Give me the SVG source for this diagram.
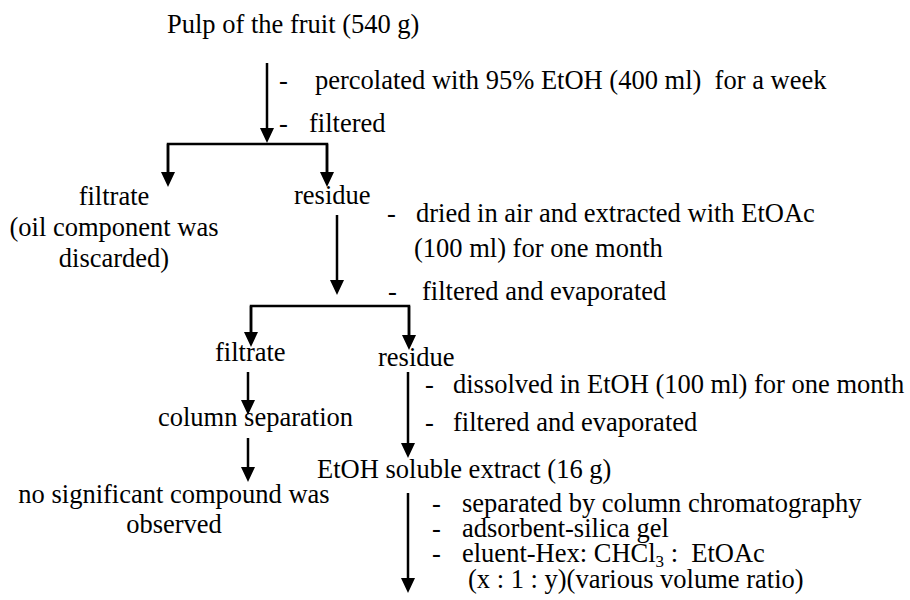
<svg xmlns="http://www.w3.org/2000/svg" width="910" height="600" viewBox="0 0 910 600">
<style>
text{font-family:"Liberation Serif","Times New Roman",serif;font-size:26.5px;fill:#000}
.c{text-anchor:middle}
.pre{white-space:pre}
.ln{stroke:#000;stroke-width:2.5;fill:none}
</style>
<defs>
<marker id="ah" markerUnits="userSpaceOnUse" markerWidth="15" markerHeight="14" refX="5" refY="7" orient="auto">
<path d="M0,0 L15,7 L0,14 Z" fill="#000"/>
</marker>
</defs>
<rect width="910" height="600" fill="#fff"/>
<g id="connectors">
<line class="ln" x1="267" y1="63" x2="267" y2="133" marker-end="url(#ah)"/>
<polyline class="ln" points="168,177 168,144 327,144 327,177"/>
<line class="ln" x1="168" y1="144" x2="168" y2="177" marker-end="url(#ah)"/>
<line class="ln" x1="327" y1="144" x2="327" y2="177" marker-end="url(#ah)"/>
<line class="ln" x1="337" y1="215" x2="337" y2="285" marker-end="url(#ah)"/>
<polyline class="ln" points="251,337 251,306 409,306 409,340"/>
<line class="ln" x1="251" y1="306" x2="251" y2="337" marker-end="url(#ah)"/>
<line class="ln" x1="409" y1="306" x2="409" y2="340" marker-end="url(#ah)"/>
<line class="ln" x1="248" y1="372" x2="248" y2="405" marker-end="url(#ah)"/>
<line class="ln" x1="248" y1="438" x2="248" y2="472" marker-end="url(#ah)"/>
<line class="ln" x1="408" y1="372" x2="408" y2="448" marker-end="url(#ah)"/>
<line class="ln" x1="408" y1="493" x2="408" y2="583" marker-end="url(#ah)"/>
</g>
<g id="pulp"><text x="167" y="33">Pulp of the fruit (540 g)</text></g>
<g id="step1">
<text class="pre" x="279" y="89">-<tspan x="315">percolated with 95% EtOH (400 ml)  for a week</tspan></text>
<text x="279" y="132">-<tspan x="309">filtered</tspan></text>
</g>
<g id="filtrate1">
<text class="c" x="114" y="205">filtrate</text>
<text class="c" x="114" y="236">(oil component was</text>
<text class="c" x="114" y="267">discarded)</text>
</g>
<g id="residue1"><text x="294" y="204">residue</text></g>
<g id="step2">
<text x="387" y="222">-<tspan x="416">dried in air and extracted with EtOAc</tspan></text>
<text x="414" y="257">(100 ml) for one month</text>
<text x="388" y="300">-<tspan x="422">filtered and evaporated</tspan></text>
</g>
<g id="filtrate2"><text x="215" y="361">filtrate</text></g>
<g id="residue2"><text x="378" y="366">residue</text></g>
<g id="column"><text x="158" y="426">column separation</text></g>
<g id="nosig">
<text class="c" x="174" y="503">no significant compound was</text>
<text class="c" x="174" y="533">observed</text>
</g>
<g id="step3">
<text x="425" y="393">-<tspan x="453">dissolved in EtOH (100 ml) for one month</tspan></text>
<text x="425" y="431">-<tspan x="453">filtered and evaporated</tspan></text>
</g>
<g id="extract"><text x="317" y="478">EtOH soluble extract (16 g)</text></g>
<g id="step4">
<text x="432" y="512">-<tspan x="462">separated by column chromatography</tspan></text>
<text x="432" y="537">-<tspan x="462">adsorbent-silica gel</tspan></text>
<text class="pre" x="432" y="562">-<tspan x="462">eluent-Hex: CHCl</tspan><tspan font-size="17" dy="5">3</tspan><tspan dy="-5"> :  EtOAc</tspan></text>
<text x="468" y="588">(x : 1 : y)(various volume ratio)</text>
</g>
</svg>
